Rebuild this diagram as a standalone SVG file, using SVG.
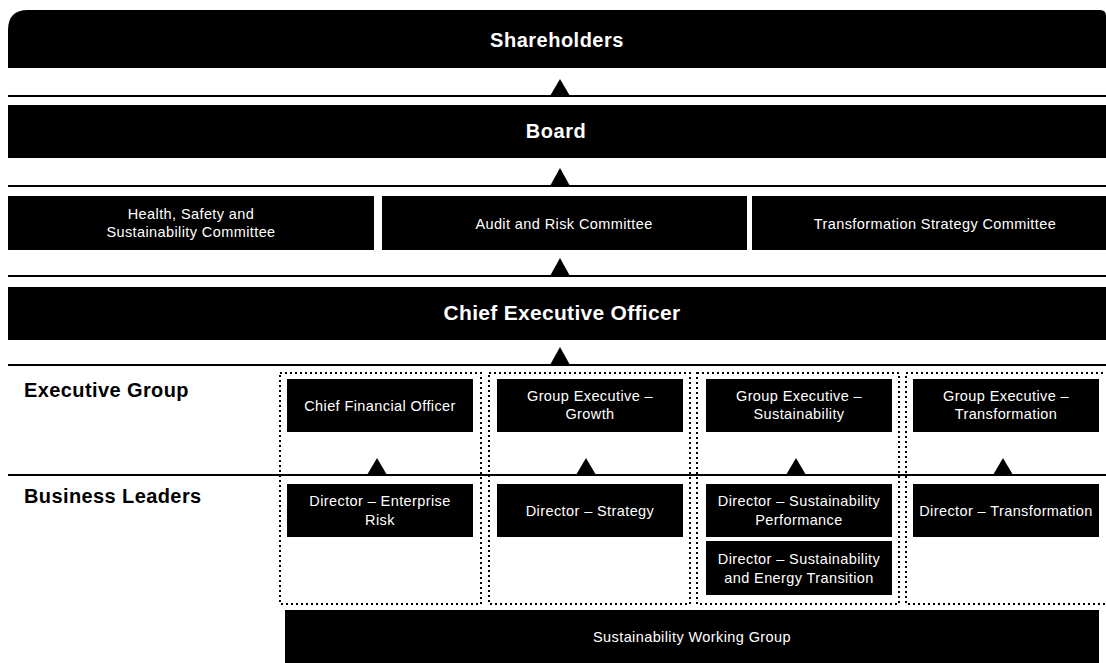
<svg xmlns="http://www.w3.org/2000/svg" width="1106" height="663" viewBox="0 0 1106 663">
<defs>
<style>
.box{fill:#000}
.t{fill:#fff;font-family:"Liberation Sans",Arial,sans-serif;font-size:14.5px;letter-spacing:0.4px;text-anchor:middle}
.tb{fill:#fff;font-family:"Liberation Sans",Arial,sans-serif;font-weight:bold;text-anchor:middle}
.lab{fill:#000;font-family:"Liberation Sans",Arial,sans-serif;font-weight:bold;font-size:20px;letter-spacing:0.4px}
.rule{stroke:#000;stroke-width:2;fill:none}
.dot{stroke:#000;stroke-width:2;stroke-dasharray:2 3;fill:none}
.arr{fill:#000}
</style>
</defs>
<rect width="1106" height="663" fill="#fff"/>

<g id="connectors">
<line class="rule" x1="8" y1="96" x2="1106" y2="96"/>
<polygon class="arr" points="560,79 550,96 570,96"/>
<line class="rule" x1="8" y1="186" x2="1106" y2="186"/>
<polygon class="arr" points="560,168 550,186 570,186"/>
<line class="rule" x1="8" y1="276" x2="1106" y2="276"/>
<polygon class="arr" points="560,258 550,276 570,276"/>
<line class="rule" x1="8" y1="365" x2="1106" y2="365"/>
<polygon class="arr" points="560,347 550,365 570,365"/>
<line class="rule" x1="8" y1="475" x2="1106" y2="475"/>
<polygon class="arr" points="377,458 367,475 387,475"/>
<polygon class="arr" points="586,458 576,475 596,475"/>
<polygon class="arr" points="796,458 786,475 806,475"/>
<polygon class="arr" points="1003,458 993,475 1013,475"/>
</g>

<g id="group-boxes">
<rect class="dot" x="280" y="373" width="201" height="231"/>
<rect class="dot" x="489" y="373" width="201" height="231"/>
<rect class="dot" x="697" y="373" width="202" height="231"/>
<rect class="dot" x="906" y="373" width="204" height="231"/>
</g>

<g id="shareholders">
<path class="box" d="M8,68 V30 Q8,10 28,10 H1100 Q1106,10 1106,16 V68 Z"/>
<text class="tb" x="557" y="47" font-size="20" letter-spacing="0.5">Shareholders</text>
</g>

<g id="board">
<rect class="box" x="8" y="105" width="1098" height="53"/>
<text class="tb" x="556" y="138" font-size="20" letter-spacing="0.5">Board</text>
</g>

<g id="hss-committee">
<rect class="box" x="8" y="196" width="366" height="54"/>
<text class="t" x="191" y="219">Health, Safety and</text>
<text class="t" x="191" y="237">Sustainability Committee</text>
</g>

<g id="audit-committee">
<rect class="box" x="382" y="196" width="365" height="54"/>
<text class="t" x="564" y="229">Audit and Risk Committee</text>
</g>

<g id="transformation-committee">
<rect class="box" x="752" y="196" width="354" height="54"/>
<text class="t" x="935" y="229">Transformation Strategy Committee</text>
</g>

<g id="ceo">
<rect class="box" x="8" y="287" width="1098" height="53"/>
<text class="tb" x="562" y="320" font-size="21" letter-spacing="0.3">Chief Executive Officer</text>
</g>

<g id="label-exec">
<text class="lab" x="24" y="397">Executive Group</text>
</g>
<g id="label-business">
<text class="lab" x="24" y="503">Business Leaders</text>
</g>

<g id="cfo">
<rect class="box" x="287" y="379" width="186" height="53"/>
<text class="t" x="380" y="411">Chief Financial Officer</text>
</g>
<g id="ge-growth">
<rect class="box" x="497" y="379" width="186" height="53"/>
<text class="t" x="590" y="401">Group Executive –</text>
<text class="t" x="590" y="419">Growth</text>
</g>
<g id="ge-sustainability">
<rect class="box" x="706" y="379" width="186" height="53"/>
<text class="t" x="799" y="401">Group Executive –</text>
<text class="t" x="799" y="419">Sustainability</text>
</g>
<g id="ge-transformation">
<rect class="box" x="913" y="379" width="186" height="53"/>
<text class="t" x="1006" y="401">Group Executive –</text>
<text class="t" x="1006" y="419">Transformation</text>
</g>

<g id="dir-risk">
<rect class="box" x="287" y="484" width="186" height="53"/>
<text class="t" x="380" y="506">Director – Enterprise</text>
<text class="t" x="380" y="525">Risk</text>
</g>
<g id="dir-strategy">
<rect class="box" x="497" y="484" width="186" height="53"/>
<text class="t" x="590" y="516">Director – Strategy</text>
</g>
<g id="dir-sust-perf">
<rect class="box" x="706" y="484" width="186" height="53"/>
<text class="t" x="799" y="506">Director – Sustainability</text>
<text class="t" x="799" y="525">Performance</text>
</g>
<g id="dir-sust-energy">
<rect class="box" x="706" y="541" width="186" height="54"/>
<text class="t" x="799" y="564">Director – Sustainability</text>
<text class="t" x="799" y="583">and Energy Transition</text>
</g>
<g id="dir-transformation">
<rect class="box" x="913" y="484" width="186" height="53"/>
<text class="t" x="1006" y="516">Director – Transformation</text>
</g>

<g id="swg">
<rect class="box" x="285" y="610" width="814" height="53"/>
<text class="t" x="692" y="642">Sustainability Working Group</text>
</g>
</svg>
